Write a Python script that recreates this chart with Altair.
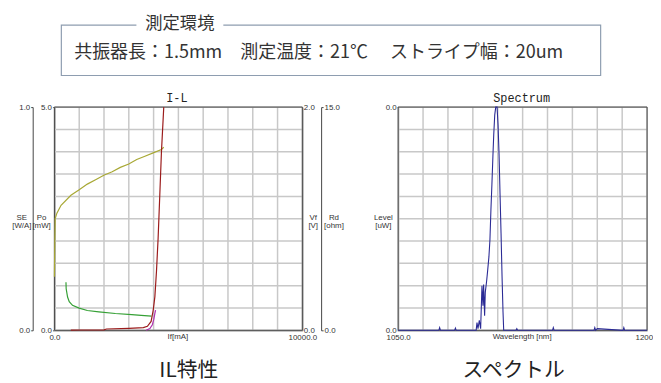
import altair as alt
import pandas as pd

# ---------------- data ----------------
# I-L chart, x = If [mA]
vf_if = [0, 15, 30, 100, 267, 665, 1000, 1327, 1660, 1992, 2330, 2657, 3000, 3319, 3650, 3984, 4315, 4410]
vf_v = [0.48, 0.80, 1.00, 1.05, 1.12, 1.21, 1.26, 1.31, 1.35, 1.39, 1.42, 1.46, 1.49, 1.53, 1.56, 1.59, 1.62, 1.64]

rd_if = [466, 474, 530, 598, 729, 996, 1327, 1793, 2458, 3120, 3500, 3916]
rd_ohm = [3.23, 2.79, 2.24, 1.92, 1.68, 1.49, 1.33, 1.24, 1.13, 1.06, 1.01, 0.96]

po_if = [660, 1000, 2000, 2100, 3000, 3586, 3750, 3900, 3984, 4051, 4117, 4183, 4250, 4316, 4410]
po_mw = [0.005, 0.008, 0.012, 0.03, 0.045, 0.06, 0.09, 0.2, 0.45, 0.75, 1.33, 2.07, 3.03, 3.99, 5.0]

se_if = [3700, 3850, 3950, 4010, 4050, 4080]
se_wa = [0.0, 0.008, 0.025, 0.05, 0.075, 0.09]

# Spectrum chart
sp_nm = [1050, 1074.5, 1075, 1075.5, 1084, 1084.5, 1085, 1096.5, 1097.0, 1097.5, 1098.1, 1098.9,
         1099.7, 1100.5, 1101.1, 1101.5, 1102.1, 1102.5, 1103.3, 1103.9, 1104.7, 1105.3, 1105.9,
         1106.5, 1107.1, 1107.6, 1108.2, 1108.8, 1109.6, 1110.2, 1110.8, 1111.4, 1112.0, 1112.6,
         1113.2, 1113.6, 1121.0, 1121.5, 1122.0, 1143.0, 1143.5, 1144.0, 1168.0, 1168.5, 1169.0,
         1170.0, 1185.5, 1186.0, 1186.5, 1200]
sp_uw = [0, 0, 0.0005, 0, 0, 0.0004, 0, 0, 0, 0.0014, 0.0003, 0.0018,
         0.0003, 0.0080, 0.0044, 0.0082, 0.0026, 0.0068, 0.0088, 0.0106, 0.0132, 0.0162, 0.0216,
         0.0262, 0.0312, 0.0351, 0.0386, 0.0400, 0.0400, 0.0368, 0.0316, 0.0244, 0.0174, 0.0097,
         0.0032, 0, 0, 0.0003, 0, 0, 0.0005, 0, 0, 0.0005, 0,
         0.0003, 0, 0.0005, 0, 0]

il_grid_x = [0, 1000, 2000, 3000, 4000, 5000, 6000, 7000, 8000, 9000, 10000]
il_grid_y = [0, 0.5, 1.0, 1.5, 2.0, 2.5, 3.0, 3.5, 4.0, 4.5, 5.0]
sp_grid_x = [1050, 1065, 1080, 1095, 1110, 1125, 1140, 1155, 1170, 1185, 1200]
sp_grid_y = [0, 0.004, 0.008, 0.012, 0.016, 0.020, 0.024, 0.028, 0.032, 0.036, 0.040]

header_title = "測定環境"
header_text = "共振器長：1.5mm　測定温度：21℃　 ストライプ幅：20um"
il_caption = "IL特性"
sp_caption = "スペクトル"

# ---------------- layout (pixels) ----------------
W, H = 251, 226
SP0, SP1 = 348, 600
LABEL_FONT = "Liberation Sans"
JP_FONT = "'Noto Sans CJK JP', 'Noto Sans', sans-serif"
GRID = "#c8c8c8"
GW = 1.5


def sc(domain, rng):
    return alt.Scale(domain=domain, range=rng, nice=False, zero=False)


def il_x():
    return sc([0, 10000], [0, W])


def sp_x():
    return sc([1050, 1200], [SP0, SP1])


def yr(domain):
    return sc(domain, [H, 0])


def ax(values, orient, offset=0, fmt=".1f", tick=2, pad=1, ends=None):
    kw = {}
    if ends is not None:
        kw["labelExpr"] = ("(datum.value == %s || datum.value == %s) ? datum.label : ''"
                           % (ends[0], ends[1]))
    return alt.Axis(values=values, orient=orient, offset=offset, format=fmt, title=None,
                    grid=False, labelFlush=False, labelOverlap=False, labelBound=False,
                    tickSize=tick, labelPadding=pad, labelFont=LABEL_FONT, labelFontSize=8,
                    labelColor="#333333", domainColor="#444444", tickColor="#444444", **kw)


layers = []

# grid lines (vertical and horizontal rules through the scales)
g1 = pd.DataFrame({"v": il_grid_x, "lo": [0] * 11, "hi": [5] * 11})
layers.append(alt.Chart(g1).mark_rule(color=GRID, strokeWidth=GW).encode(
    x=alt.X("v:Q", scale=il_x(), axis=None),
    y=alt.Y("lo:Q", scale=yr([0, 5]), axis=None), y2="hi:Q"))
g2 = pd.DataFrame({"v": il_grid_y, "lo": [0] * 11, "hi": [10000] * 11})
layers.append(alt.Chart(g2).mark_rule(color=GRID, strokeWidth=GW).encode(
    y=alt.Y("v:Q", scale=yr([0, 5]), axis=None),
    x=alt.X("lo:Q", scale=il_x(), axis=None), x2="hi:Q"))
g3 = pd.DataFrame({"v": sp_grid_x, "lo": [0] * 11, "hi": [0.04] * 11})
layers.append(alt.Chart(g3).mark_rule(color=GRID, strokeWidth=GW).encode(
    x=alt.X("v:Q", scale=sp_x(), axis=None),
    y=alt.Y("lo:Q", scale=yr([0, 0.04]), axis=None), y2="hi:Q"))
g4 = pd.DataFrame({"v": sp_grid_y, "lo": [1050] * 11, "hi": [1200] * 11})
layers.append(alt.Chart(g4).mark_rule(color=GRID, strokeWidth=GW).encode(
    y=alt.Y("v:Q", scale=yr([0, 0.04]), axis=None),
    x=alt.X("lo:Q", scale=sp_x(), axis=None), x2="hi:Q"))

# frames
f1 = pd.DataFrame({"x0": [0], "x1": [10000], "y0": [0], "y1": [5]})
layers.append(alt.Chart(f1).mark_rect(filled=False, stroke="#444444", strokeWidth=1).encode(
    x=alt.X("x0:Q", scale=il_x(), axis=None), x2="x1",
    y=alt.Y("y0:Q", scale=yr([0, 5]), axis=None), y2="y1"))
f2 = pd.DataFrame({"x0": [1050], "x1": [1200], "y0": [0], "y1": [0.04]})
layers.append(alt.Chart(f2).mark_rect(filled=False, stroke="#444444", strokeWidth=1).encode(
    x=alt.X("x0:Q", scale=sp_x(), axis=None), x2="x1",
    y=alt.Y("y0:Q", scale=yr([0, 0.04]), axis=None), y2="y1"))

# I-L series
d_vf = pd.DataFrame({"If": vf_if, "Vf": vf_v})
layers.append(alt.Chart(d_vf).mark_line(color="#a8a834", strokeWidth=1.2).encode(
    x=alt.X("If:Q", scale=il_x(), axis=None),
    y=alt.Y("Vf:Q", scale=yr([0, 2]), axis=ax([0, 2], "right", 0, tick=0, pad=1))))
d_rd = pd.DataFrame({"If": rd_if, "Rd": rd_ohm})
layers.append(alt.Chart(d_rd).mark_line(color="#35a035", strokeWidth=1.2).encode(
    x=alt.X("If:Q", scale=il_x(), axis=None),
    y=alt.Y("Rd:Q", scale=yr([0, 15]), axis=ax([0, 15], "right", 19, tick=2, pad=1))))
d_po = pd.DataFrame({"If": po_if, "Po": po_mw})
layers.append(alt.Chart(d_po).mark_line(color="#9b1b1b", strokeWidth=1.2).encode(
    x=alt.X("If:Q", scale=il_x(), axis=ax([0, 10000], "bottom", 0, tick=0, pad=3)),
    y=alt.Y("Po:Q", scale=yr([0, 5]), axis=ax([0, 5], "left", 0, tick=2, pad=1))))
d_se = pd.DataFrame({"If": se_if, "SE": se_wa})
layers.append(alt.Chart(d_se).mark_line(color="#b030b0", strokeWidth=1.2).encode(
    x=alt.X("If:Q", scale=il_x(), axis=None),
    y=alt.Y("SE:Q", scale=yr([0, 1]), axis=ax([0, 1], "left", 22, tick=2, pad=1))))

# spectrum
d_sp = pd.DataFrame({"nm": sp_nm, "uW": sp_uw})
layers.append(alt.Chart(d_sp).mark_line(color="#2b2b95", strokeWidth=1.1).encode(
    x=alt.X("nm:Q", scale=sp_x(), axis=ax([1050, 1200], "bottom", 0, tick=0, pad=3)),
    y=alt.Y("uW:Q", scale=yr([0, 0.04]), axis=ax([0, 0.04], "left", -SP0, tick=1, pad=1))))

# header box
layers.append(alt.Chart(pd.DataFrame({"a": [0]})).mark_rect(
    filled=False, stroke="#8e9db0", strokeWidth=1.2).encode(
    x=alt.value(7), x2=alt.value(553), y=alt.value(-83), y2=alt.value(-32)))
layers.append(alt.Chart(pd.DataFrame({"a": [0]})).mark_rect(fill="white").encode(
    x=alt.value(83), x2=alt.value(171), y=alt.value(-90), y2=alt.value(-76)))


def txt(s, x, y, size, font, align="center", color="#333333"):
    return alt.Chart(pd.DataFrame({"t": [s]})).mark_text(
        font=font, fontSize=size, align=align, baseline="middle", color=color,
        lineBreak="\n", lineHeight=8).encode(
        text="t:N", x=alt.value(x), y=alt.value(y))


layers.append(txt(header_title, 127, -84.3, 17.5, JP_FONT))
layers.append(txt(header_text, 20, -54.3, 18.2, JP_FONT, align="left"))
layers.append(txt("I-L", 124, -9, 12, "Liberation Mono", color="#222222"))
layers.append(txt("Spectrum", 473, -9, 12, "Liberation Mono", color="#222222"))
layers.append(txt("SE\n[W/A]", -33, 112.7, 8, LABEL_FONT))
layers.append(txt("Po\n[mW]", -13, 112.7, 8, LABEL_FONT))
layers.append(txt("Vf\n[V]", 262, 112.7, 8, LABEL_FONT))
layers.append(txt("Rd\n[ohm]", 283, 112.7, 8, LABEL_FONT))
layers.append(txt("Level\n[uW]", 333, 112.7, 8, LABEL_FONT))
layers.append(txt("If[mA]", 125, 233, 8, LABEL_FONT))
layers.append(txt("Wavelength [nm]", 473.5, 233, 8, LABEL_FONT))
layers.append(txt(il_caption, 136, 267, 21, JP_FONT, color="#222222"))
layers.append(txt(sp_caption, 465, 267, 21, JP_FONT, color="#222222"))

chart = alt.layer(*layers).resolve_scale(x="independent", y="independent").properties(
    width=W, height=H, autosize=alt.AutoSizeParams(type="none"),
    padding={"left": 47, "top": 98, "right": 355, "bottom": 51},
    background="white",
).configure_view(stroke=None)

chart.save("out.html", embed_options={"renderer": "svg", "actions": False})
